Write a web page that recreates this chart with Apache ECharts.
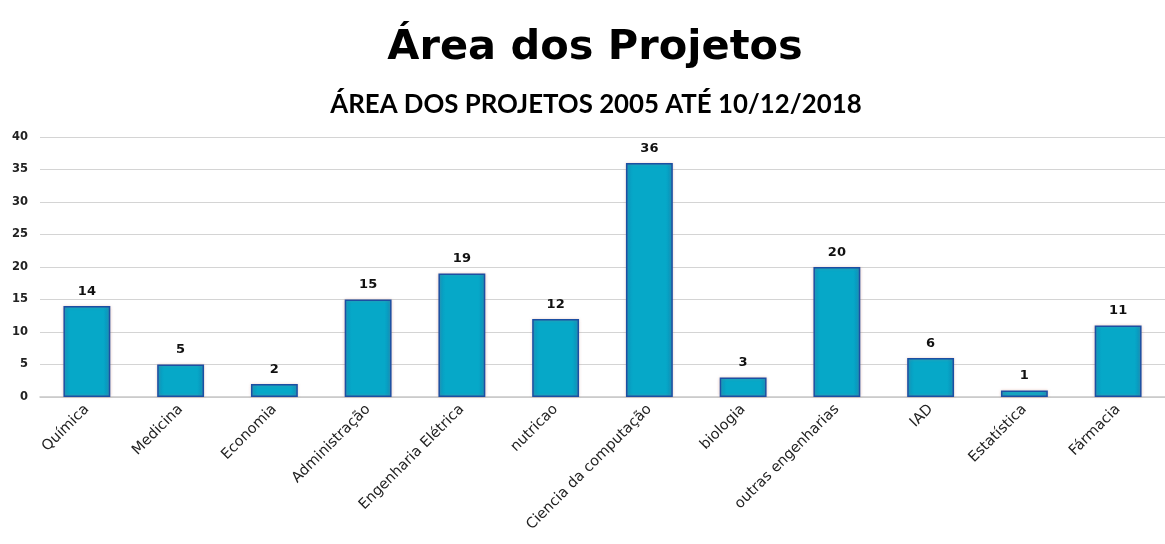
<!DOCTYPE html>
<html lang="pt-BR" style="height: 100%">

<head>
  <meta charset="utf-8">
</head>

<body style="height: 100%; margin: 0; background: #fff">
  <div id="container" style="height: 100%"></div>

  <script type="text/javascript" src="https://cdn.jsdelivr.net/npm/echarts@6/dist/echarts.min.js"></script>
  <script type="text/javascript">
    var areas = [
      'Química', 'Medicina', 'Economia', 'Administração', 'Engenharia Elétrica', 'nutricao',
      'Ciencia da computação', 'biologia', 'outras engenharias', 'IAD', 'Estatística', 'Fármacia'
    ];
    var projetos = [14, 5, 2, 15, 19, 12, 36, 3, 20, 6, 1, 11];
    var yTicks = [0, 5, 10, 15, 20, 25, 30, 35, 40];

    var myChart = echarts.init(document.getElementById('container'));
    myChart.setOption({
      animation: false,
      title: [
        {
          text: 'Área dos Projetos',
          left: 590,
          textAlign: 'center',
          top: 22,
          textStyle: { fontFamily: 'DejaVu Sans', fontWeight: 'bold', fontSize: 41.5, color: '#000' }
        },
        {
          text: 'ÁREA DOS PROJETOS 2005 ATÉ 10/12/2018',
          left: 591,
          textAlign: 'center',
          top: 87,
          textStyle: { fontFamily: 'Lato', fontWeight: 'bold', fontSize: 25.8, color: '#000' }
        }
      ],
      grid: { left: 40, right: 0, top: 137, bottom: 147 },
      xAxis: {
        type: 'category',
        data: areas,
        axisTick: { show: false },
        axisLine: { lineStyle: { color: '#c8c8c8', width: 1.5 } },
        axisLabel: {
          rotate: 45,
          interval: 0,
          margin: 10,
          fontFamily: 'DejaVu Sans',
          fontSize: 14.5,
          color: '#222'
        }
      },
      yAxis: {
        type: 'value',
        min: yTicks[0],
        max: yTicks[yTicks.length - 1],
        interval: 5,
        axisLine: { show: false },
        axisTick: { show: false },
        splitLine: { lineStyle: { color: '#d4d4d4', width: 1.2 } },
        axisLabel: {
          margin: 12,
          fontFamily: 'DejaVu Sans',
          fontWeight: 'bold',
          fontSize: 11.5,
          color: '#222'
        }
      },
      series: [
        {
          type: 'bar',
          data: projetos,
          barWidth: '50%',
          itemStyle: {
            color: new echarts.graphic.LinearGradient(0, 0, 1, 0, [
              { offset: 0, color: '#0a95bd' },
              { offset: 0.15, color: '#06a8c8' },
              { offset: 0.85, color: '#06a8c8' },
              { offset: 1, color: '#0a8fba' }
            ]),
            borderColor: '#1c4fa3',
            borderWidth: 1.5,
            shadowColor: 'rgba(200,120,100,0.35)',
            shadowBlur: 3
          },
          label: {
            show: true,
            position: 'top',
            distance: 8,
            fontFamily: 'DejaVu Sans',
            fontWeight: 'bold',
            fontSize: 13,
            color: '#111'
          }
        }
      ]
    });
  </script>
</body>

</html>
